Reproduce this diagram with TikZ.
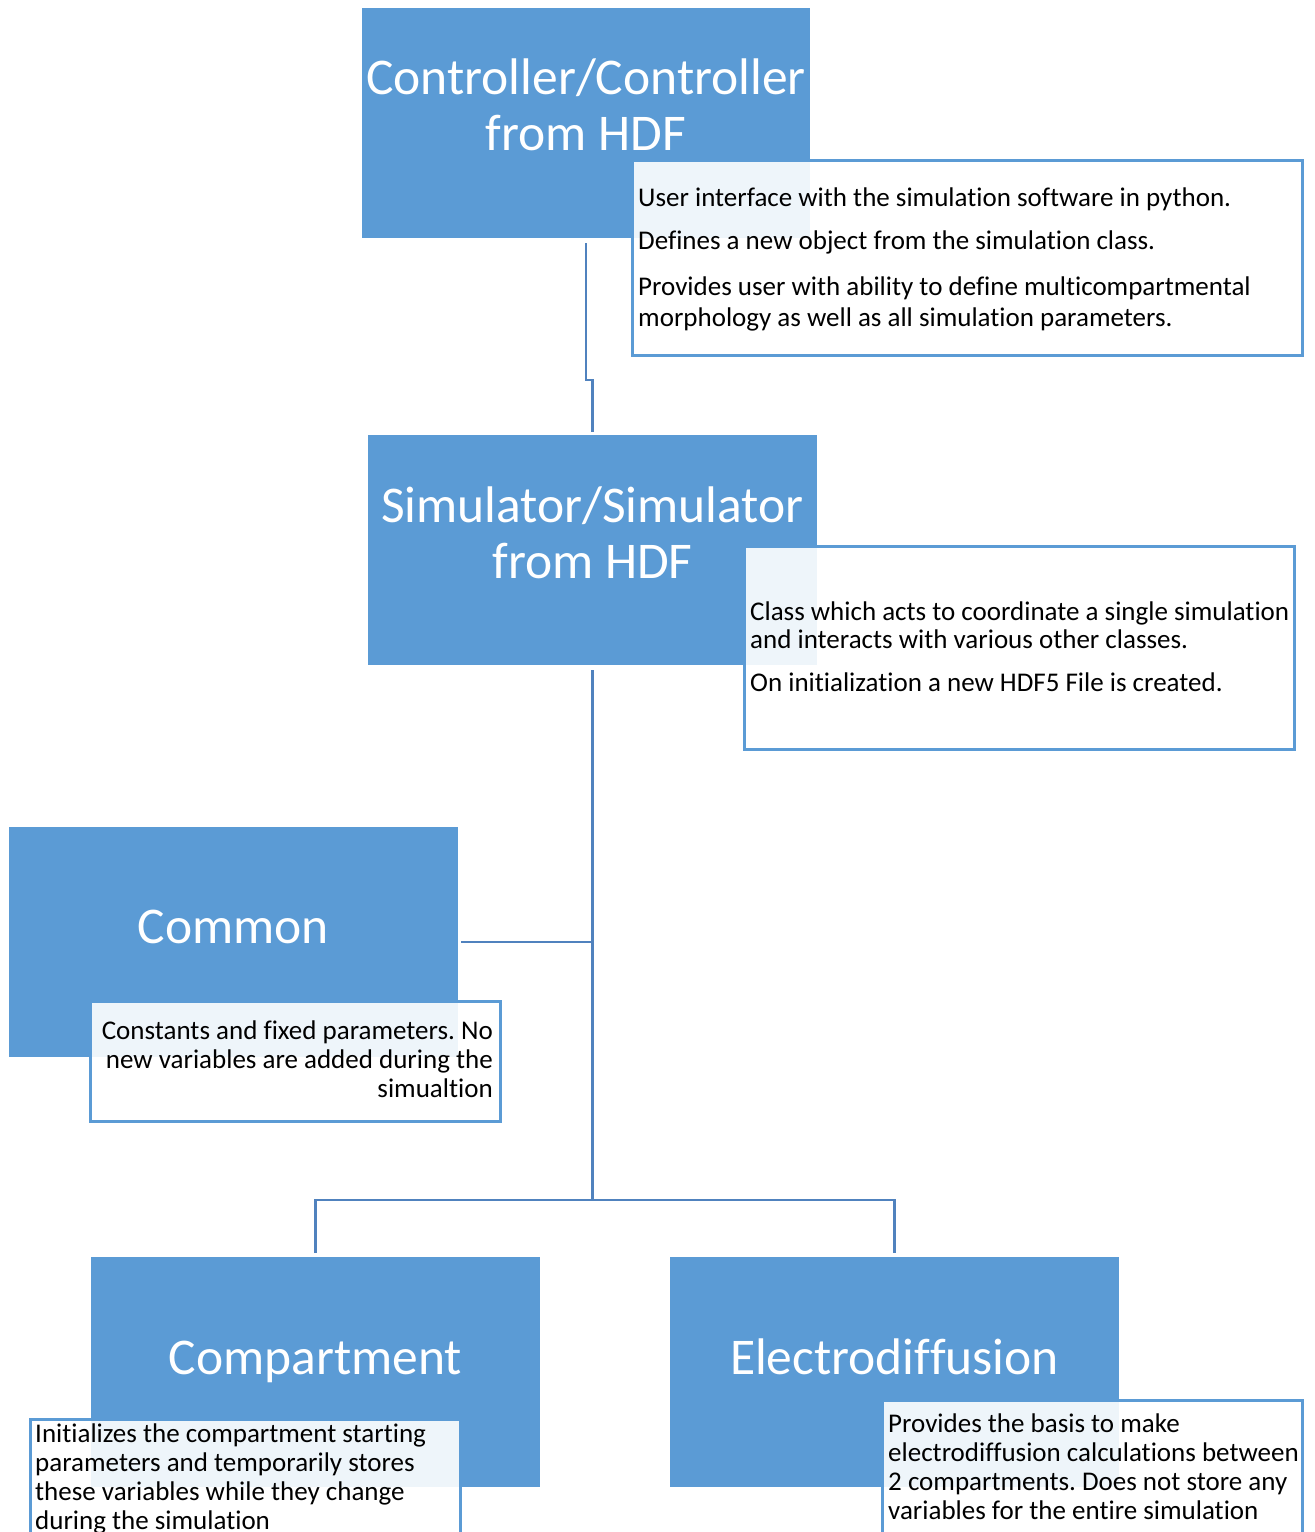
\documentclass[tikz,border=0pt]{standalone}
\usepackage{fontspec}
\setmainfont{Carlito}[Ligatures=NoCommon]
\frenchspacing
\definecolor{boxblue}{RGB}{91,155,213}
\definecolor{linkblue}{RGB}{80,130,190}
\begin{document}
\frenchspacing
\begin{tikzpicture}[x=1pt,y=-1pt,
  mainbox/.style={draw=none, fill=boxblue, minimum width=449pt, minimum height=230pt, anchor=north west, inner sep=0pt},
  descbox/.style={draw=boxblue, line width=2.5pt, fill=white, fill opacity=0.9, draw opacity=1, anchor=north west, inner sep=0pt},
  title/.style={text=white, font=\fontsize{51.5}{55.5}\selectfont, align=center, anchor=base, inner sep=0pt},
  desc/.style={text=black, font=\fontsize{27}{29}\selectfont\frenchspacing, align=left, anchor=base west, inner sep=0pt},
  conn/.style={draw=linkblue, line width=2.5pt}]
\useasboundingbox (0,0) rectangle (1315,1532);
\clip (0,0) rectangle (1315,1532);
% main boxes
\node[mainbox, minimum width=448pt] (ctrl) at (362,8) {};
\node[mainbox] (sim) at (368,435) {};
\node[mainbox] (common) at (9,827) {};
\node[mainbox] (comp) at (91,1257) {};
\node[mainbox] (elec) at (670,1257) {};
% titles (anchor base = last line baseline)
\node[title] (ctrlT) at (586,150) {Controller/Controller\\from HDF};
\node[title] (simT) at (592.5,578) {Simulator/Simulator\\from HDF};
\node[title] (comT) at (233.5,943) {Common};
\node[title] (compT) at (315.5,1374) {Compartment};
\node[title] (elecT) at (894.5,1374) {Electrodiffusion};
% description boxes
\node[descbox, minimum width=670pt, minimum height=195pt] (ctrlD) at (631,159) {};
\node[descbox, minimum width=550pt, minimum height=203pt] (simD) at (743,545) {};
\node[descbox, minimum width=410pt, minimum height=120pt] (comD) at (89,1000) {};
\node[descbox, minimum width=430pt, minimum height=160pt] (compD) at (29,1418) {};
\node[descbox, minimum width=420pt, minimum height=170pt] (elecD) at (881,1399) {};
% description texts (anchor base = last line baseline)
\node[desc, font=\fontsize{27}{31}\selectfont\frenchspacing] (ctrlX) at (638,326) {User interface with the simulation software in python.\\[12pt]Defines a new object from the simulation class.\\[15pt]Provides user with ability to define multicompartmental\\morphology as well as all simulation parameters.};
\node[desc, font=\fontsize{27}{28}\selectfont\frenchspacing] (simX) at (750,691) {Class which acts to coordinate a single simulation\\and interacts with various other classes.\\[15pt]On initialization a new HDF5 File is created.};
\node[desc, align=right, anchor=base east] (comX) at (493,1097) {Constants and fixed parameters. No\\new variables are added during the\\simualtion};
\node[desc] (compX) at (35,1529) {Initializes the compartment starting\\parameters and temporarily stores\\these variables while they change\\during the simulation};
\node[desc] (elecX) at (888,1519) {Provides the basis to make\\electrodiffusion calculations between\\2 compartments. Does not store any\\variables for the entire simulation};
% connectors
\coordinate (j1) at (ctrl.south |- 0,380);
\coordinate (j2) at (sim.north |- 0,380);
\draw[conn] ([yshift=-5pt]ctrl.south) -- (j1) -- (j2) -- ([yshift=3pt]sim.north);
\coordinate (hub) at (sim.south |- 0,1200);
\coordinate (cj) at (sim.south |- common.east);
\draw[conn] ([yshift=-5pt]sim.south) -- (hub);
\draw[conn] (cj) -- ([xshift=3pt]common.east);
\draw[conn] ([yshift=4pt]comp.north) -- (comp.north |- hub) -- (elec.north |- hub) -- ([yshift=4pt]elec.north);
\end{tikzpicture}
\end{document}
